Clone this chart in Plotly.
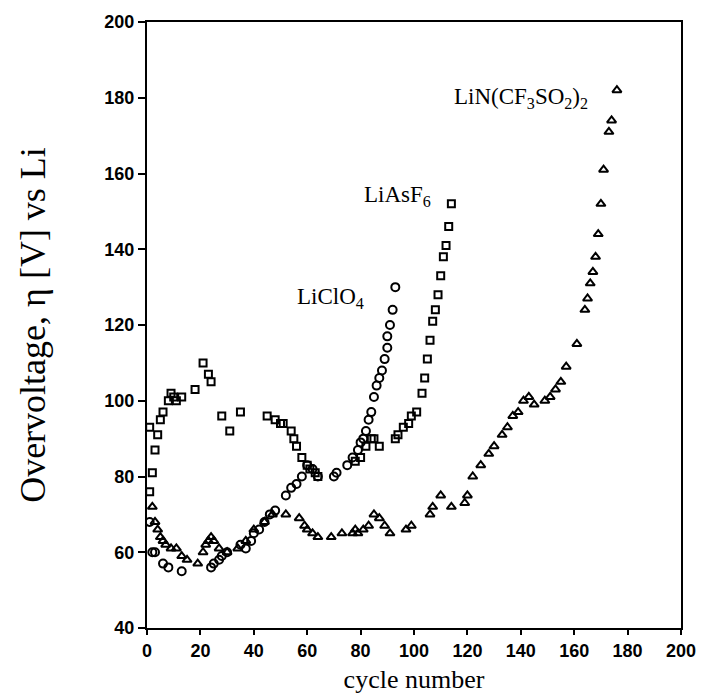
import plotly.graph_objects as go

# LiAsF6 (squares)
asf6_cycle = [1, 1, 2, 3, 4, 5, 6, 8, 9, 10, 11, 13, 18, 21, 23, 24, 28, 31, 35,
              45, 48, 50, 51, 54, 55, 56, 58, 60, 61, 63, 64,
              78, 80, 82, 84, 85, 87, 93, 94, 96, 98, 99, 101,
              103, 104, 105, 106, 107, 108, 109, 110, 111, 112, 113, 114]
asf6_eta = [93, 76, 81, 87, 91, 95, 97, 100, 102, 101, 100, 101, 103, 110, 107, 105, 96, 92, 97,
            96, 95, 94, 94, 92, 90, 88, 85, 83, 82, 81, 80,
            84, 85, 88, 90, 90, 88, 90, 91, 93, 94, 96, 97,
            102, 106, 111, 116, 121, 124, 128, 133, 138, 141, 146, 152]

# LiClO4 (circles)
clo4_cycle = [1, 2, 3, 6, 8, 13, 24, 25, 27, 28, 30, 35, 37, 39, 40, 42, 44, 46, 48,
              52, 54, 56, 58, 60, 62, 64, 70, 71, 75, 77, 79, 80, 81, 82, 83, 84,
              85, 86, 87, 88, 89, 90, 90, 91, 92, 93]
clo4_eta = [68, 60, 60, 57, 56, 55, 56, 57, 58, 59, 60, 62, 61, 63, 65, 66, 68, 70, 71,
            75, 77, 78, 80, 83, 82, 80, 80, 81, 83, 85, 87, 89, 90, 92, 95, 97,
            101, 104, 106, 108, 111, 114, 117, 120, 124, 130]

# LiN(CF3SO2)2 (triangles)
tfsi_cycle = [2, 3, 4, 5, 6, 7, 9, 11, 13, 15, 19, 21, 22, 23, 24, 25, 27, 30, 34, 37,
              40, 44, 47, 52, 57, 59, 60, 62, 64, 69, 73, 77, 78, 79, 81, 83, 85, 87,
              89, 91, 97, 99, 106, 107, 110, 114, 119, 120, 122, 125, 128, 130, 133,
              135, 137, 139, 141, 143, 145, 149, 151, 153, 155, 157, 161, 164, 165,
              166, 167, 168, 169, 170, 171, 173, 174, 176]
tfsi_eta = [72, 68, 66, 64, 63, 62, 61, 61, 59, 58, 57, 60, 62, 63, 64, 63, 61, 60, 61, 63,
            66, 68, 70, 70, 69, 67, 66, 65, 64, 64, 65, 65, 66, 65, 66, 67, 70, 69,
            67, 65, 66, 67, 70, 72, 75, 72, 73, 75, 80, 83, 86, 88, 91,
            93, 96, 97, 100, 101, 99, 100, 101, 103, 105, 109, 115, 124, 127,
            131, 134, 138, 144, 152, 161, 171, 174, 182]

x_ticks = [0, 20, 40, 60, 80, 100, 120, 140, 160, 180, 200]
y_ticks = [40, 60, 80, 100, 120, 140, 160, 180, 200]

SERIF = "Liberation Serif, Times New Roman, serif"
SANS = "Liberation Sans, Arial, sans-serif"

fig = go.Figure()


def add_series(x, y, symbol, size):
    fig.add_trace(go.Scatter(
        x=x, y=y, mode="markers",
        marker=dict(symbol=symbol, size=size, color="black",
                    line=dict(color="black", width=2)),
        showlegend=False,
    ))


add_series(asf6_cycle, asf6_eta, "square-open", 7)
add_series(clo4_cycle, clo4_eta, "circle-open", 8)
add_series(tfsi_cycle, tfsi_eta, "triangle-up-open", 8)

# Salt labels placed beside the top of each curve
labels = [
    (82, 127, "LiClO<sub>4</sub>"),
    (107, 154, "LiAsF<sub>6</sub>"),
    (166, 180, "LiN(CF<sub>3</sub>SO<sub>2</sub>)<sub>2</sub>"),
]
for lx, ly, txt in labels:
    fig.add_annotation(x=lx, y=ly, text=txt, showarrow=False, xanchor="right",
                       yanchor="middle", font=dict(family=SERIF, size=23, color="black"))

fig.update_layout(
    width=709, height=694,
    margin=dict(l=147, r=28, t=22, b=66),
    paper_bgcolor="white", plot_bgcolor="white",
    xaxis=dict(
        range=[0, 200], tickvals=x_ticks, ticktext=[str(v) for v in x_ticks],
        showgrid=False, zeroline=False, showline=True, linecolor="black", linewidth=2,
        mirror=True, ticks="outside", ticklen=5, tickwidth=2, tickcolor="black",
        tickfont=dict(family=SANS, size=18, color="black", weight="bold"), automargin=False,
        title=dict(text="cycle number", font=dict(family=SERIF, size=26, color="black"),
                   standoff=12),
    ),
    yaxis=dict(
        range=[40, 200], tickvals=y_ticks, ticktext=[str(v) for v in y_ticks],
        showgrid=False, zeroline=False, showline=True, linecolor="black", linewidth=2,
        mirror=True, ticks="outside", ticklen=7, tickwidth=2, tickcolor="black",
        tickfont=dict(family=SANS, size=18, color="black", weight="bold"), automargin=False,
        title=dict(text="Overvoltage, η [V] vs Li",
                   font=dict(family=SERIF, size=36, color="black"), standoff=48),
    ),
)

fig.write_html("out.html")
